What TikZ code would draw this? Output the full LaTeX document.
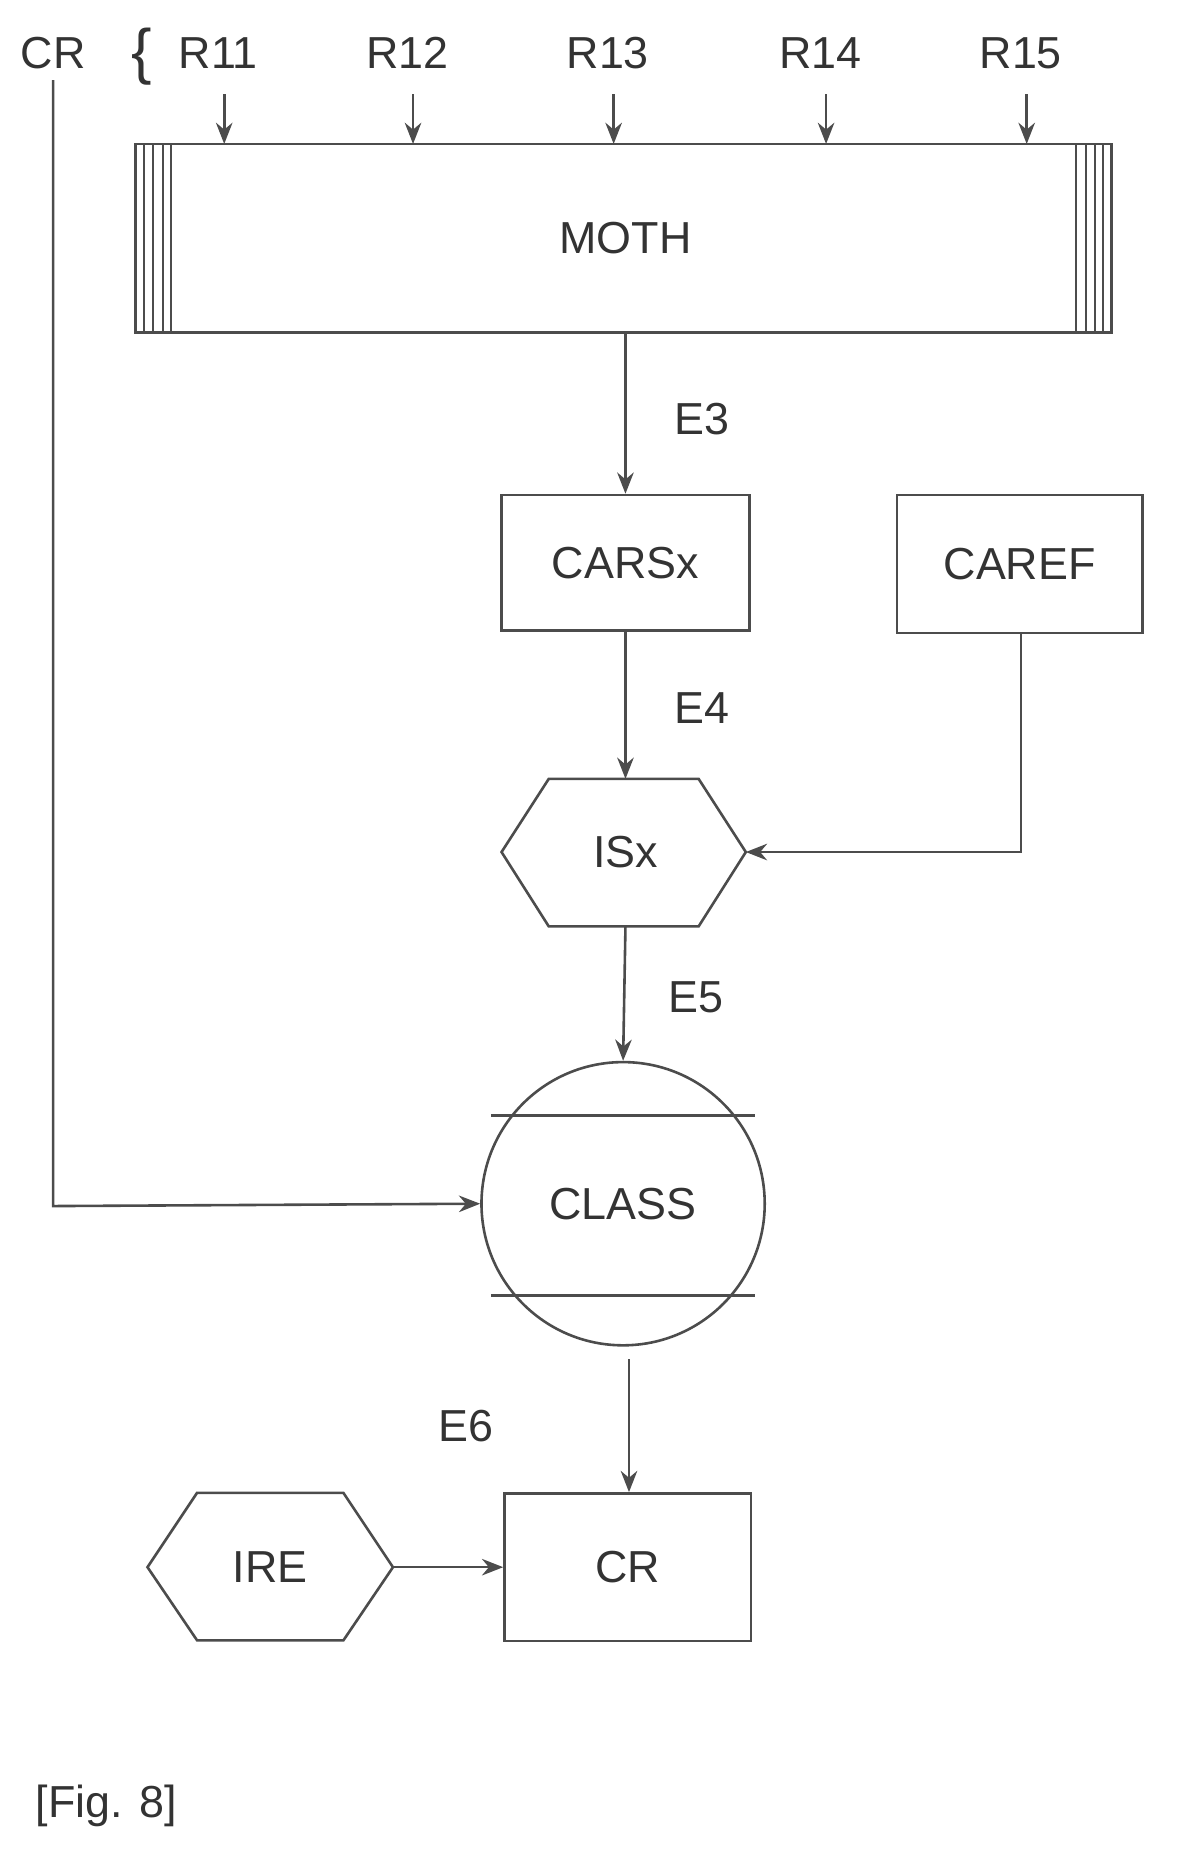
\documentclass[tikz,border=0pt]{standalone}
\usepackage{fontspec}
\setmainfont{Liberation Sans}
\usetikzlibrary{arrows.meta}
\begin{document}
\begin{tikzpicture}[x=0.5pt,y=-0.5pt,
  every node/.style={font=\fontsize{19}{22}\selectfont, text=black!80},
  ln/.style={draw=black!70, line width=1.1pt},
  arr/.style={ln,-{Stealth[length=9pt,width=7pt]}},
  lbl/.style={inner sep=0pt}]
\useasboundingbox (0,0) rectangle (1000,1588);
% top labels
\node[lbl] (cr0) at (45,45) {CR};
\node[lbl] (brace) at (120,48) {\fontsize{26}{26}\selectfont\{};
\foreach \n/\x in {R11/185,R12/345,R13/515,R14/695,R15/865}{
  \node[lbl] (\n) at (\x,45) {\n};
  \coordinate (\n a) at (\x+5,80);
  \coordinate (\n b) at (\x+5,122);
  \draw[arr] (\n a) -- (\n b);
}
% MOTH
\draw[ln] (115,122) rectangle (942,282);
\foreach \x in {122,130,138,145,912,920,928,935}{\draw[ln,line width=0.8pt] (\x,122) -- (\x,282);}
\node[lbl] (moth) at (530,202) {MOTH};
\coordinate (mothb) at (530,282);
% CARSx
\node[ln,minimum width=105pt,minimum height=57.5pt] (cars) at (530,477) {CARSx};
\node[ln,minimum width=104pt,minimum height=58.5pt] (caref) at (864,478) {CAREF};
\draw[arr] (mothb) -- (cars.north);
\node[lbl] (e3) at (595,355) {E3};
% ISx
\draw[ln] (425,722) -- (465,660) -- (592,660) -- (632,722) -- (592,785) -- (465,785) -- cycle;
\node[lbl] (isx) at (530,722) {ISx};
\coordinate (isxt) at (530,660);
\coordinate (isxr) at (632,722);
\coordinate (isxb) at (530,785);
\draw[arr] (cars.south) -- (isxt);
\node[lbl] (e4) at (595,600) {E4};
\coordinate (corner) at (865,722);
\draw[arr] (caref.south -| corner) -- (corner) -- (isxr);
% CLASS
\node[ln,circle,minimum size=120pt,inner sep=0pt] (class) at (528,1020) {CLASS};
\draw[ln] (416,945) -- (640,945);
\draw[ln] (416,1098) -- (640,1098);
\draw[arr] (isxb) -- (class.north);
\node[lbl] (e5) at (590,845) {E5};
\coordinate (crl1) at (45,68);
\coordinate (crl2) at (45,1022);
\draw[arr] (crl1) -- (crl2) -- (class.west);
% CR
\node[ln,minimum width=104.5pt,minimum height=62.5pt] (cr) at (532,1328) {CR};
\coordinate (cls) at (533,1152);
\draw[arr] (cls) -- (cr.north -| cls);
\node[lbl] (e6) at (395,1208) {E6};
% IRE
\draw[ln] (125,1328) -- (167,1265) -- (291,1265) -- (333,1328) -- (291,1390) -- (167,1390) -- cycle;
\node[lbl] (ire) at (229,1328) {IRE};
\coordinate (irer) at (333,1328);
\draw[arr] (irer) -- (cr.west);
\node[lbl] (fig) at (90,1530) {[Fig. 8]};
\end{tikzpicture}
\end{document}
